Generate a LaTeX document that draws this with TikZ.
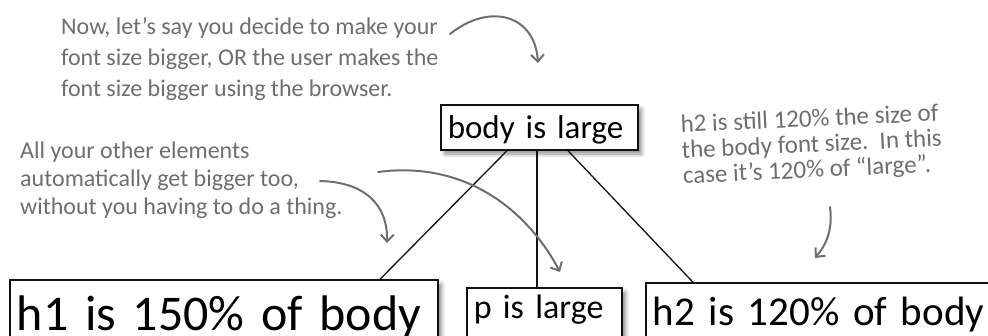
\documentclass[tikz,border=0pt]{standalone}
\usepackage{fontspec}
\setmainfont{Carlito}
\usepackage{tikz}
\usetikzlibrary{positioning,arrows.meta,calc,shadows.blur}
\definecolor{ink}{HTML}{111111}
\definecolor{pencil}{HTML}{6E6E6E}

\begin{document}
\begin{tikzpicture}[
    x=1pt, y=-1pt,
    box/.style={draw=ink, line width=1.5pt, fill=white, inner xsep=7pt, inner ysep=0pt, align=left, anchor=base west,
        blur shadow={shadow xshift=4pt, shadow yshift=-4pt, shadow blur radius=4pt, shadow opacity=45}},
    note/.style={text=pencil, align=left, inner sep=0pt, anchor=north west},
    link/.style={draw=ink, line width=1.3pt},
    arr/.style={-{Straight Barb[length=7pt, width=13pt]}, line width=2pt, draw=pencil, line cap=round}
]
    \useasboundingbox (0,0) rectangle (988,335);
    \clip (0,0) rectangle (988,335);

    % the boxes of the tree
    \node[box, text width=183pt, text height=33pt, text depth=12pt, font=\fontsize{33}{38}\selectfont] (body) at (440,138) {body is large};
    \node[box, text width=414pt, text height=50pt, text depth=20pt, font=\fontsize{50}{58}\selectfont] (h1) at (9,330) {h1 is 150\% of body};
    \node[box, text width=141pt, text height=30pt, text depth=30pt, font=\fontsize{34}{40}\selectfont] (p) at (466,318) {p is large};
    \node[box, text width=346pt, text height=42pt, text depth=20pt, font=\fontsize{41}{48}\selectfont] (h2) at (645,325) {h2 is 120\% of body};

    \draw[link] ($(body.south west)+(67,0)$) -- ($(h1.north west)+(371,0)$);
    \draw[link] ($(body.south west)+(97,0)$) -- ($(p.north west)+(71,0)$);
    \draw[link] ($(body.south west)+(128,0)$) -- ($(h2.north west)+(48,0)$);

    % hand notes
    \node[note, font=\fontsize{24}{31}\selectfont] (bigger) at (61,17) {Now, let’s say you decide to make your\\ font size bigger, OR the user makes the\\ font size bigger using the browser.};
    \node[note, font=\fontsize{24}{28}\selectfont] (others) at (20,142) {All your other elements\\ automatically get bigger too,\\ without you having to do a thing.};
    \node[note, font=\fontsize{25}{25.5}\selectfont, rotate=2.6] (still) at (680,115) {h2 is still 120\% the size of\\ the body font size.\ \ In this\\ case it’s 120\% of “large”.};

    \coordinate (biggerTail) at (450,34);
    \coordinate (biggerTip) at (538,63);
    \coordinate (othersTail) at (320,181);
    \coordinate (othersTip) at (387,243);
    \coordinate (pTail) at (378,172);
    \coordinate (pTip) at (560,272);
    \coordinate (stillTail) at (830,207);
    \coordinate (stillTip) at (815,258);

    \draw[arr] (biggerTail) .. controls (490,2) and (535,15) .. (biggerTip);
    \draw[arr] (othersTail) .. controls (365,182) and (388,205) .. (othersTip);
    \draw[arr] (pTail) .. controls (470,160) and (530,215) .. (pTip);
    \draw[arr] (stillTail) .. controls (833,230) and (826,245) .. (stillTip);
\end{tikzpicture}
\end{document}
